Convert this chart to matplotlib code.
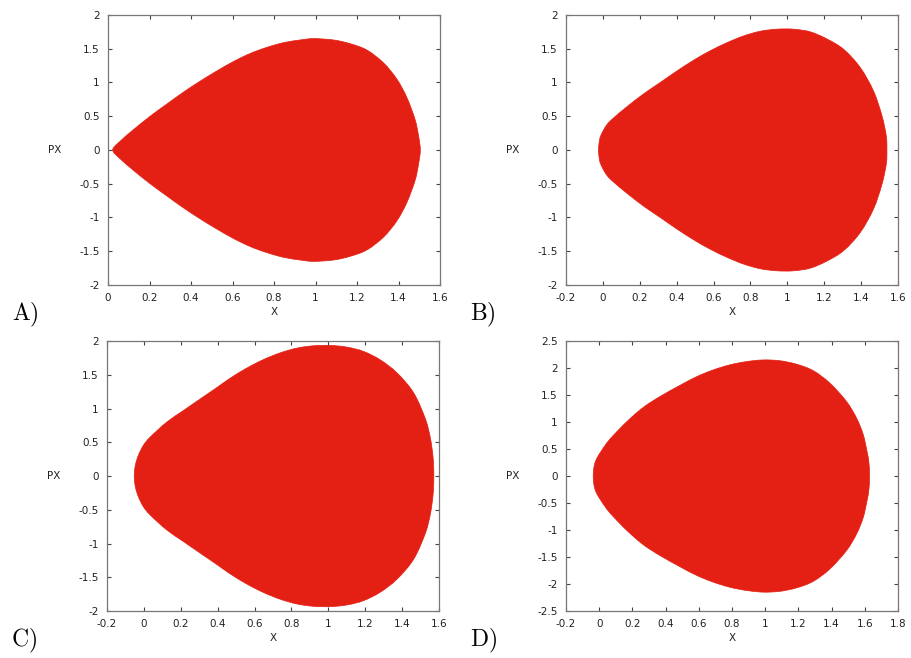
import matplotlib
matplotlib.use("Agg")
import matplotlib.pyplot as plt
from matplotlib.path import Path
from matplotlib.patches import PathPatch
import numpy as np

plt.rcParams['mathtext.fontset'] = 'cm'

# Upper boundary of each filled region (x, px); lower half is the mirror image
xA = [0.0225, 0.058, 0.122, 0.203, 0.283, 0.363, 0.444, 0.524, 0.604, 0.685, 0.765, 0.846,
      0.926, 0.99, 1.087, 1.167, 1.248, 1.328, 1.392, 1.44, 1.48, 1.497, 1.505]
pA = [0.0, 0.129, 0.30, 0.5, 0.68, 0.856, 1.02, 1.17, 1.31, 1.43, 1.52, 1.59,
      1.63, 1.65, 1.63, 1.575, 1.48, 1.29, 1.05, 0.78, 0.45, 0.2, 0.0]

xB = [-0.0235, -0.018, -0.005, 0.022, 0.058, 0.130, 0.22, 0.311, 0.401, 0.492, 0.582, 0.673,
      0.763, 0.854, 0.944, 1.034, 1.125, 1.215, 1.306, 1.396, 1.468, 1.514, 1.537, 1.54]
pB = [0.0, 0.153, 0.25, 0.376, 0.475, 0.64, 0.83, 1.0, 1.17, 1.33, 1.47, 1.59,
      1.69, 1.76, 1.79, 1.79, 1.75, 1.645, 1.49, 1.22, 0.87, 0.5, 0.2, 0.0]

xC = [-0.0525, -0.047, -0.031, -0.004, 0.033, 0.123, 0.214, 0.304, 0.395, 0.468, 0.558, 0.648,
      0.739, 0.829, 0.92, 1.01, 1.101, 1.191, 1.282, 1.373, 1.463, 1.527, 1.554, 1.568, 1.572]
pC = [0.0, 0.153, 0.30, 0.45, 0.574, 0.797, 0.97, 1.14, 1.31, 1.45, 1.60, 1.725,
      1.825, 1.895, 1.93, 1.935, 1.91, 1.846, 1.72, 1.526, 1.23, 0.84, 0.55, 0.27, 0.0]

xD = [-0.036, -0.030, -0.016, 0.014, 0.064, 0.164, 0.265, 0.365, 0.487, 0.587, 0.687, 0.788,
      0.889, 0.989, 1.089, 1.19, 1.29, 1.39, 1.49, 1.551, 1.591, 1.614, 1.625, 1.629]
pD = [0.0, 0.19, 0.315, 0.47, 0.68, 1.0, 1.27, 1.47, 1.68, 1.84, 1.965, 2.06,
      2.12, 2.15, 2.135, 2.07, 1.95, 1.72, 1.38, 1.07, 0.765, 0.45, 0.25, 0.0]

xticksA = [0, 0.2, 0.4, 0.6, 0.8, 1, 1.2, 1.4, 1.6]
xticksB = [-0.2, 0, 0.2, 0.4, 0.6, 0.8, 1, 1.2, 1.4, 1.6]
xticksD = [-0.2, 0, 0.2, 0.4, 0.6, 0.8, 1, 1.2, 1.4, 1.6, 1.8]
yticksA = [-2, -1.5, -1, -0.5, 0, 0.5, 1, 1.5, 2]
yticksD = [-2.5, -2, -1.5, -1, -0.5, 0, 0.5, 1, 1.5, 2, 2.5]

panels = [
    ("A)", xA, pA, xticksA, yticksA, (0.1186, 0.5669, 0.3644, 0.4103)),
    ("B)", xB, pB, xticksB, yticksA, (0.6213, 0.5669, 0.3644, 0.4103)),
    ("C)", xC, pC, xticksB, yticksA, (0.1175, 0.0714, 0.3644, 0.4103)),
    ("D)", xD, pD, xticksD, yticksD, (0.6213, 0.0714, 0.3644, 0.4103)),
]

fill_color = '#e41f13'
W, H = 911, 658
fig = plt.figure(figsize=(W / 100, H / 100), dpi=100)


def smooth_closed_path(pts):
    """Closed smooth path (Catmull-Rom as cubic Bezier segments) through the given vertices."""
    n = len(pts)
    verts = [pts[0]]
    codes = [Path.MOVETO]
    for i in range(n):
        p0 = pts[(i - 1) % n]
        p1 = pts[i]
        p2 = pts[(i + 1) % n]
        p3 = pts[(i + 2) % n]
        c1 = p1 + (p2 - p0) / 6.0
        c2 = p2 - (p3 - p1) / 6.0
        verts += [c1, c2, p2]
        codes += [Path.CURVE4] * 3
    return Path(np.array(verts), codes)


for label, xs, ps, xt, yt, rect in panels:
    ax = fig.add_axes(rect)
    xs = np.array(xs)
    ps = np.array(ps)
    upper = np.column_stack([xs, ps])
    lower = np.column_stack([xs[::-1], -ps[::-1]])[1:-1]
    pts = np.vstack([upper, lower])
    patch = PathPatch(smooth_closed_path(pts), fc=fill_color, ec=fill_color, lw=0.5)
    ax.add_patch(patch)
    ax.set_xlim(xt[0], xt[-1])
    ax.set_ylim(yt[0], yt[-1])
    ax.set_xticks(xt)
    ax.set_yticks(yt)
    ax.set_xticklabels(['%g' % v for v in xt])
    ax.set_yticklabels(['%g' % v for v in yt])
    ax.tick_params(direction='in', length=3, width=0.8, color='#444444',
                   top=True, right=True, labelsize=7.5, labelcolor='#222222', pad=6)
    for sp in ax.spines.values():
        sp.set_color('#777777')
        sp.set_linewidth(0.9)
    l, b, w, h = rect
    x_left_px = l * W
    x_mid_px = (l + w / 2) * W
    y_mid_px = (1 - (b + h / 2)) * H
    y_bot_px = (1 - b) * H
    fig.text((x_left_px - 53) / W, 1 - y_mid_px / H, 'PX', ha='center', va='center',
             fontsize=7.5, color='#222222')
    fig.text(x_mid_px / W, 1 - (y_bot_px + 27) / H, 'X', ha='center', va='center',
             fontsize=7.5, color='#222222')
    fig.text((x_left_px - 96) / W, 1 - (y_bot_px + 30) / H, r'$\mathrm{%s}$' % label,
             ha='left', va='center', fontsize=17, color='black')

fig.savefig('out.png', dpi=100)
